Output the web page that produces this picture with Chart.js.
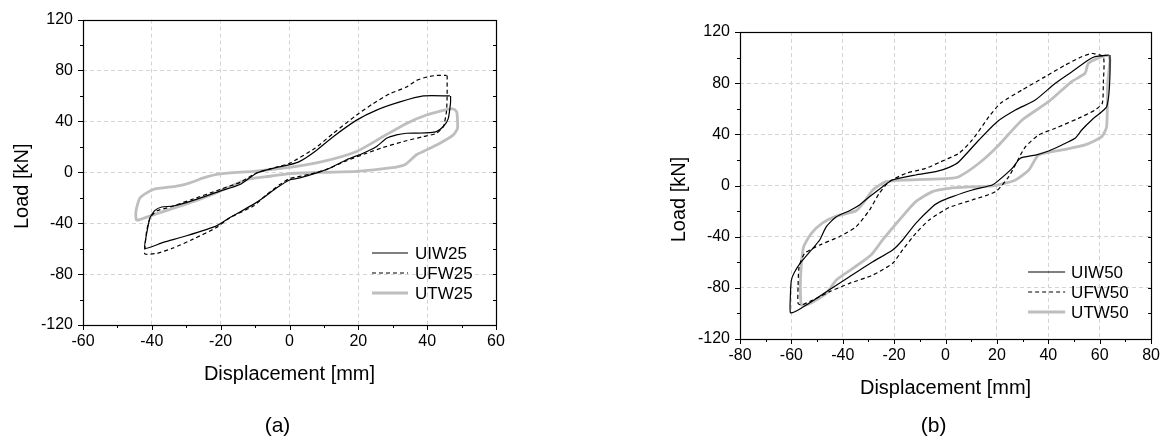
<!DOCTYPE html>
<html>
<head>
<meta charset="utf-8">
<script src="https://cdn.jsdelivr.net/npm/chart.js@4.4.0/dist/chart.umd.min.js"></script>
<style>
body { margin: 0; background: #fff; }
#wrap { position: relative; width: 1167px; height: 441px; }
canvas { position: absolute; top: 0; }
</style>
</head>
<body>
<div id="wrap">
  <canvas id="chartA" width="583" height="441" style="left:0px"></canvas>
  <canvas id="chartB" width="584" height="441" style="left:583px"></canvas>
</div>
<script>
// (a) 25 mm specimens - displacement [mm] / load [kN]
const uiw25X = [46.8, 46.8, 46.1, 44.7, 42.7, 40.8, 37, 34, 31.1, 28.2, 25.3, 21.4, 16.6, 11.8, 7.9, 3, 0, -3.7, -7.6, -10.5, -17.3, -21.2, -29.9, -36.7, -42, -41.7, -40.5, -39.1, -37.1, -33.8, -28, -20.2, -14.4, -9.5, -3.7, 0.1, 3, 7.4, 12.7, 19.5, 25.3, 32.1, 38.9, 46.6];
const uiw25Y = [60, 55, 42, 36, 32, 31.2, 30.8, 30.7, 29.4, 26.7, 20.3, 15, 9.9, 3.4, -0.5, -4.4, -6, -12.2, -20, -25.2, -35.6, -42.1, -49.9, -55.1, -59.8, -51.2, -35.6, -29.9, -27.3, -26.5, -22.1, -14.8, -9.6, -0.5, 3.9, 6, 8.6, 16.4, 28, 41, 48.9, 55.3, 60, 60];

const ufw25X = [45.8, 45.8, 45.6, 44.7, 42.7, 38.9, 33.1, 27.2, 22.4, 16.6, 11, 6, 0, -2.8, -6.6, -10.5, -17.3, -21.2, -28, -33.8, -38.6, -42, -42, -41.5, -40.5, -38.6, -34.7, -28, -20.2, -14, -10, -4, 0, 7.4, 12.7, 19.5, 24.3, 29.2, 34, 36.9, 39.8, 42.7, 45.6];
const ufw25Y = [76, 60, 47.5, 36, 30.6, 28.1, 24.2, 19.5, 15, 9.1, 2.5, -1.5, -5, -9.6, -17.4, -26.5, -35.6, -43.4, -52.5, -59.5, -63.7, -64.2, -59, -46, -35.6, -30.4, -27.3, -21, -13.5, -7.5, -1, 4, 7, 18.9, 30.6, 45, 54, 61.8, 67, 72.2, 74.8, 76.1, 76.1];

const utw25X = [47.6, 48.6, 48.8, 47.6, 43.7, 38.9, 36.9, 33.5, 29.2, 19.5, 9.8, 0, -5.7, -12.4, -20.2, -27, -34.7, -40.5, -44.4, -44.6, -43.4, -39.6, -32.8, -28.9, -25, -20.2, -10.5, 0, 9.8, 19.5, 27.2, 34, 39.8, 45.6, 47.6];
const utw25Y = [50, 47.5, 34.5, 29.4, 22.8, 16.4, 13.8, 6, 3.4, 0.8, 0, -1, -3.1, -5.7, -14.8, -22.1, -29.1, -34.3, -37.6, -30.4, -20, -13.5, -10.9, -8.3, -4.4, -1.3, 0.8, 3.9, 8.6, 16.4, 28.1, 38.4, 45, 49.3, 50];

// (b) 50 mm specimens
const uiw50X = [64, 64, 63.6, 62.7, 60.8, 56.9, 53, 50.4, 45.3, 40.1, 35, 29.1, 25.9, 20.1, 18.2, 10.4, 2.7, -2.5, -5.1, -11.6, -16.7, -20.6, -28.3, -37.4, -46.4, -54.2, -58.7, -60.4, -60.4, -60, -58.7, -56.1, -52.2, -49, -46.4, -42.5, -37.4, -33.5, -29.6, -24.5, -20.6, -11.6, -3.8, 1.4, 5.2, 13, 20.1, 27.2, 34.9, 42.7, 49.2, 55.6, 58.2, 63.6];
const uiw50Y = [102, 87.7, 72.1, 61.6, 57.7, 51.2, 43.4, 36.9, 31.7, 27, 23.8, 21.3, 13.4, 3, 0.4, -3.5, -8.7, -13, -16.6, -29.6, -42.6, -50.4, -59.6, -71.3, -83, -93.4, -98.7, -99.4, -86.9, -73.9, -67.4, -59.6, -50.4, -42.6, -32.2, -24.4, -19.7, -15.2, -8.8, -0.9, 4.3, 8.2, 10.8, 14.2, 18.6, 35.6, 49.9, 59, 66.8, 79.9, 89, 98.1, 100.7, 102];

const ufw50X = [56.9, 61.4, 61.4, 61, 58.2, 51.7, 42.7, 36.2, 31.1, 28.5, 24.6, 19.5, 10.4, 1.4, -6.4, -11.6, -16.7, -20.6, -28.3, -37.4, -45.1, -51.6, -56.1, -57.4, -57.4, -57, -54.8, -49, -41.3, -34.8, -29.6, -25.8, -21.9, -15.4, -7.7, -2.5, 5.2, 10.4, 16.9, 21.4, 29.8, 38.8, 46.6, 53, 56.9];
const ufw50Y = [103.4, 100.7, 79.9, 64.3, 59, 52.5, 44.7, 39.5, 30.3, 21.3, 6.9, -4.8, -11.3, -17.2, -27, -37.4, -50.4, -60.8, -70, -76.5, -83, -89.5, -93.4, -92.1, -79.1, -63.5, -53, -46.5, -40, -32.2, -19.2, -6.1, 3, 9.5, 13.4, 18, 25.2, 35.6, 53.8, 64.3, 74.7, 85.1, 94.2, 100.7, 103.4];

const utw50X = [63.4, 64, 63.1, 62.7, 60.8, 54.3, 45.3, 36.2, 32.4, 27.2, 19.4, 10.4, 1.4, -5.1, -11.6, -18, -24.5, -29, -36.1, -42.5, -46.4, -50.3, -54.2, -56.1, -56.5, -56.1, -55.2, -52.2, -47.7, -42.5, -34.8, -31.6, -28.3, -23.2, -15.4, 1.4, 5.2, 13, 20.1, 29.8, 40.1, 49.1, 54.3, 55.6, 60.8, 63.4];
const utw50Y = [102, 98.1, 79.9, 46, 38.2, 31.7, 27.8, 23.8, 12.1, 4.3, -0.1, -1, -2.2, -4.8, -12.6, -27, -42.6, -54.3, -64.8, -73.9, -84.3, -89.5, -93.4, -93.4, -79.1, -60.8, -47.8, -37.4, -29.1, -23.9, -19.7, -12.6, -3.5, 3, 4.3, 5.6, 6.9, 17.4, 30.3, 51.2, 65.5, 81.2, 87.7, 95.5, 100.7, 102];

// axis ranges [min, max, major step]
const xAxisA = [-60, 60, 20];
const xAxisB = [-80, 80, 20];
const yAxis = [-120, 120, 40];

const FONT = 'Arial, "Liberation Sans", sans-serif';
const GRID = '#d4d4d4';

function pts(xs, ys) {
    return xs.map((x, i) => ({ x: x, y: ys[i] }));
}

function serie(label, xs, ys, color, width, dash) {
    return {
        label: label,
        data: pts(xs, ys),
        showLine: true,
        borderColor: color,
        borderWidth: width,
        borderDash: dash,
        pointRadius: 0,
        tension: 0.2,
        fill: false
    };
}

// no grid line on the frame itself
function gridColor(c) {
    const s = c.scale;
    if (c.tick && (c.tick.value === s.min || c.tick.value === s.max)) return 'rgba(0,0,0,0)';
    return GRID;
}

// frame, minor ticks, titles, legend inside the plot
const decor = {
    id: 'decor',
    afterDraw(chart, args, o) {
        const ctx = chart.ctx;
        const a = chart.chartArea;
        const sx = chart.scales.x, sy = chart.scales.y;

        function line(x1, y1, x2, y2) {
            ctx.beginPath();
            ctx.moveTo(x1, y1);
            ctx.lineTo(x2, y2);
            ctx.stroke();
        }

        ctx.save();
        ctx.strokeStyle = '#000';
        ctx.lineWidth = 1;

        // ticks
        for (let v = sx.min; v <= sx.max + 1e-6; v += o.xStep / 2) {
            const px = Math.round(sx.getPixelForValue(v)) + 0.5;
            const major = Math.abs(v / o.xStep - Math.round(v / o.xStep)) < 1e-6;
            line(px, a.bottom, px, a.bottom + (major ? 5 : 3));
        }
        for (let v = sy.min; v <= sy.max + 1e-6; v += o.yStep / 2) {
            const py = Math.round(sy.getPixelForValue(v)) + 0.5;
            const major = Math.abs(v / o.yStep - Math.round(v / o.yStep)) < 1e-6;
            line(a.left - (major ? 5 : 3), py, a.left, py);
            line(a.right - 3, py, a.right, py);
        }

        // frame
        ctx.lineWidth = 1.2;
        ctx.strokeRect(Math.round(a.left) + 0.5, Math.round(a.top) + 0.5,
            Math.round(a.right - a.left), Math.round(a.bottom - a.top));

        // titles
        ctx.fillStyle = '#000';
        ctx.font = '20px ' + FONT;
        ctx.textAlign = 'center';
        ctx.textBaseline = 'alphabetic';
        const cx = (a.left + a.right) / 2;
        const cy = (a.top + a.bottom) / 2;
        ctx.fillText(o.xTitle, cx, a.bottom + 55);
        ctx.save();
        ctx.translate(a.left - 55, cy + 14);
        ctx.rotate(-Math.PI / 2);
        ctx.fillText(o.yTitle, 0, 0);
        ctx.restore();

        ctx.font = '21px ' + FONT;
        ctx.fillText(o.panel, cx - 12, 432);

        // legend
        ctx.font = '17px ' + FONT;
        ctx.textAlign = 'left';
        ctx.textBaseline = 'middle';
        chart.data.datasets.forEach((ds, i) => {
            const yy = a.bottom - o.legendBottom + i * 20;
            ctx.strokeStyle = ds.borderColor;
            ctx.lineWidth = ds.borderWidth;
            ctx.setLineDash(ds.borderDash || []);
            line(a.right - o.legendLine[0], yy, a.right - o.legendLine[1], yy);
            ctx.setLineDash([]);
            ctx.fillText(ds.label, a.right - o.legendText, yy + 1);
        });
        ctx.restore();
    }
};

function makeChart(id, datasets, xAxis, area, deco) {
    const ctx = document.getElementById(id).getContext('2d');
    return new Chart(ctx, {
        type: 'scatter',
        data: { datasets: datasets },
        plugins: [decor],
        options: {
            responsive: false,
            animation: false,
            devicePixelRatio: 1,
            layout: { padding: { left: 0, top: area.top, right: area.right, bottom: 0 } },
            plugins: {
                legend: { display: false },
                tooltip: { enabled: false },
                decor: deco
            },
            scales: {
                x: {
                    type: 'linear',
                    min: xAxis[0],
                    max: xAxis[1],
                    afterFit: function (s) { s.height = area.xHeight; },
                    ticks: {
                        stepSize: xAxis[2],
                        padding: 7,
                        color: '#000',
                        font: { family: FONT, size: 16 }
                    },
                    grid: { color: gridColor, lineWidth: 1, drawTicks: false },
                    border: { display: false, dash: [4, 3] }
                },
                y: {
                    type: 'linear',
                    min: yAxis[0],
                    max: yAxis[1],
                    afterFit: function (s) { s.width = area.yWidth; },
                    ticks: {
                        stepSize: yAxis[2],
                        padding: 10,
                        color: '#000',
                        font: { family: FONT, size: 16 }
                    },
                    grid: { color: gridColor, lineWidth: 1, drawTicks: false },
                    border: { display: false, dash: [4, 3] }
                }
            }
        }
    });
}

const GREY = '#bebebe';

makeChart('chartA', [
    serie('UIW25', uiw25X, uiw25Y, '#000', 1.2, []),
    serie('UFW25', ufw25X, ufw25Y, '#000', 1.2, [4, 3]),
    serie('UTW25', utw25X, utw25Y, GREY, 2.8, [])
], xAxisA, { top: 17, right: 87, yWidth: 83, xHeight: 116 }, {
    xStep: xAxisA[2], yStep: yAxis[2],
    xTitle: 'Displacement [mm]', yTitle: 'Load [kN]', panel: '(a)',
    legendBottom: 72, legendLine: [124, 88], legendText: 81
});

makeChart('chartB', [
    serie('UIW50', uiw50X, uiw50Y, '#000', 1.2, []),
    serie('UFW50', ufw50X, ufw50Y, '#000', 1.2, [4, 3]),
    serie('UTW50', utw50X, utw50Y, GREY, 2.8, [])
], xAxisB, { top: 32, right: 14, yWidth: 157, xHeight: 102 }, {
    xStep: xAxisB[2], yStep: yAxis[2],
    xTitle: 'Displacement [mm]', yTitle: 'Load [kN]', panel: '(b)',
    legendBottom: 67, legendLine: [123, 86], legendText: 80
});
</script>
</body>
</html>
